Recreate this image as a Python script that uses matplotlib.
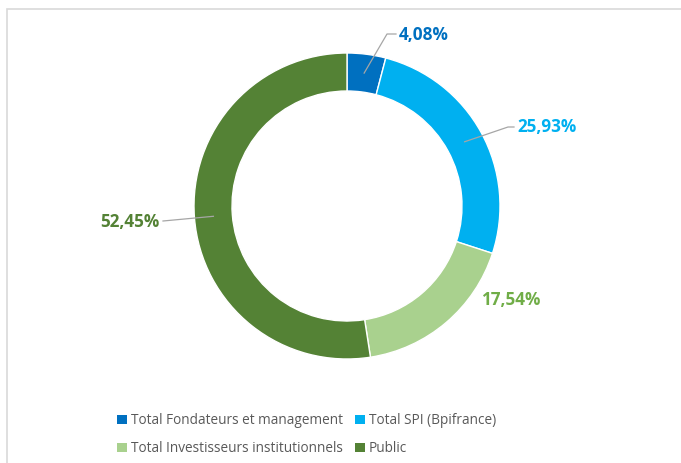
import matplotlib
matplotlib.use("Agg")
import matplotlib.pyplot as plt
from matplotlib.patches import Rectangle
import numpy as np

# data
categories = ["Total Fondateurs et management", "Total SPI (Bpifrance)",
              "Total Investisseurs institutionnels", "Public"]
shares = [4.08, 25.93, 17.54, 52.45]
labels = ["4,08%", "25,93%", "17,54%", "52,45%"]
colors = ["#0070C0", "#00B0F0", "#A9D18E", "#548235"]
label_colors = ["#0070C0", "#00B0F0", "#70AD47", "#548235"]

W, H = 681, 463
fig = plt.figure(figsize=(W / 100, H / 100), dpi=100)
ax = fig.add_axes([0, 0, 1, 1])

# chart frame
fig.patches.append(Rectangle((7 / W, -0.01), 1.0, 1 - 9 / H + 0.01, transform=fig.transFigure,
                             fill=False, edgecolor="#D9D9D9", linewidth=1.2))

cx, cy, r, ring = 347, H - 206, 153, 38
wedges, _ = ax.pie(shares, colors=colors, startangle=90, counterclock=False,
                   center=(cx, cy), radius=r, frame=True,
                   wedgeprops=dict(width=ring, edgecolor="white", linewidth=1))
ax.set_xlim(0, W)
ax.set_ylim(0, H)
ax.set_aspect("equal")
ax.axis("off")

# label text anchor (pixels) and leader elbow
lab_pos = [(399, 35), (517, 127), (481, 300), (159, 222)]
elbows = [[(387, 34), (396, 34)], [(508, 127), (514, 127)], None, [(163, 221)]]
has = ["left", "left", "left", "right"]

for w, lab, col, (tx, ty), elb, ha in zip(wedges, labels, label_colors, lab_pos, elbows, has):
    mid = np.radians((w.theta1 + w.theta2) / 2)
    rm = r - ring / 2
    px, py = cx + rm * np.cos(mid), cy + rm * np.sin(mid)
    if elb is not None:
        pts = [(px, py)] + [(x, H - y) for x, y in elb]
        xs, ys = zip(*pts)
        ax.plot(xs, ys, color="#A6A6A6", linewidth=0.9)
    ax.text(tx, H - ty, lab, color=col, fontsize=12.3, fontweight="bold",
            family=["Open Sans", "DejaVu Sans"], ha=ha, va="center")

# legend filled row by row
handles = [Rectangle((0, 0), 1, 1, facecolor=c) for c in colors]
order = [0, 2, 1, 3]
fig.legend([handles[i] for i in order], [categories[i] for i in order],
           loc="upper left", bbox_to_anchor=(112 / W, 1 - 408 / H),
           ncol=2, frameon=False, handlelength=0.7, handleheight=0.7, handletextpad=0.3,
           columnspacing=0.9, labelspacing=0.95, borderaxespad=0,
           prop=dict(family="Open Sans", size=9.8), labelcolor="#595959")

fig.savefig("out.png", dpi=100)
